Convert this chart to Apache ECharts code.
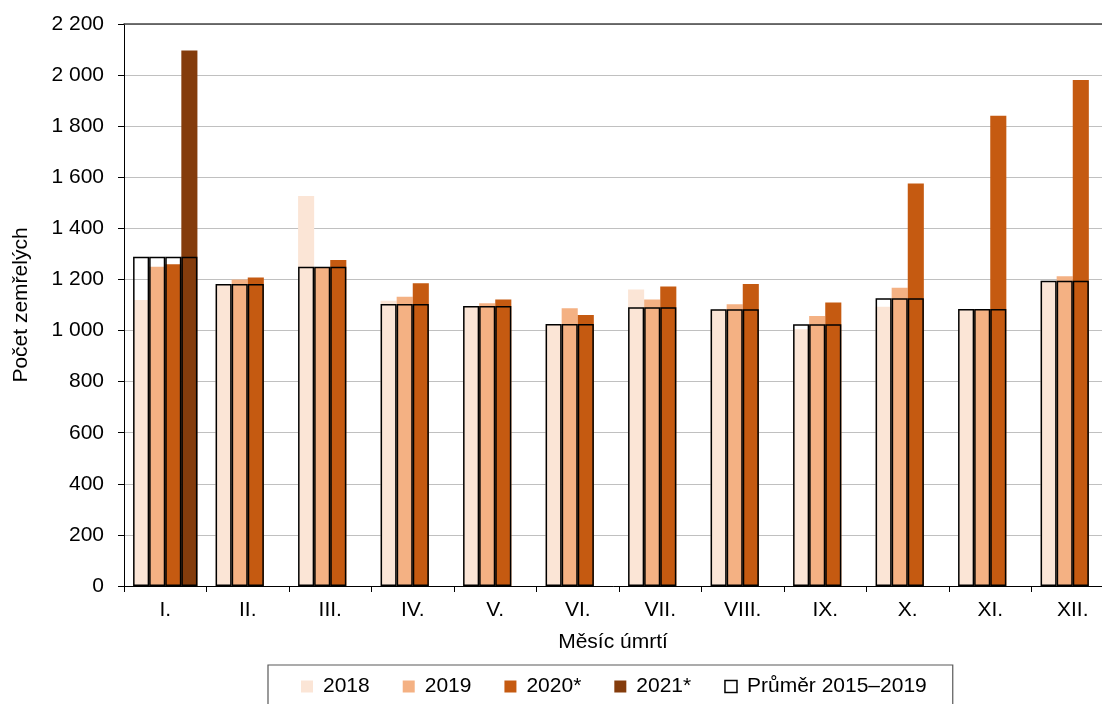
<!DOCTYPE html>
<html>
<head>
<meta charset="utf-8">
<script src="https://cdn.jsdelivr.net/npm/echarts@6/dist/echarts.min.js"></script>
<style>
  html, body { margin: 0; padding: 0; background: #fff; }
  #chart { width: 1102px; height: 704px; }
</style>
</head>
<body>
<div id="chart"></div>
<script>
const months = ['I.', 'II.', 'III.', 'IV.', 'V.', 'VI.', 'VII.', 'VIII.', 'IX.', 'X.', 'XI.', 'XII.'];
const s2018 = [1120, 1178, 1527, 1117, 1092, 1022, 1161, 1081, 1005, 1093, 1082, 1189];
const s2019 = [1250, 1200, 1246, 1132, 1107, 1087, 1122, 1103, 1057, 1168, 1082, 1213];
const s2020 = [1260, 1208, 1276, 1185, 1122, 1061, 1172, 1182, 1110, 1576, 1841, 1981];
const s2021 = [2096, null, null, null, null, null, null, null, null, null, null, null];
const avg1519 = [1289, 1182, 1250, 1104, 1096, 1026, 1091, 1083, 1025, 1126, 1084, 1195];

const yearNames = ['2018', '2019', '2020*', '2021*'];
const yearData = [s2018, s2019, s2020, s2021];
const yearColors = ['#FBE5D6', '#F4B183', '#C55A11', '#843C0C'];
const avgName = 'Průměr 2015–2019';

const FONT = '"Liberation Sans", Arial, sans-serif';
const FS = 21;
const fmt = v => String(v).replace(/\B(?=(\d{3})+(?!\d))/g, ' ');

const series = [];
yearData.forEach((d, i) => {
  series.push({
    name: yearNames[i], type: 'bar', xAxisIndex: 0, data: d,
    barGap: '0%', barCategoryGap: '22%',
    itemStyle: { color: yearColors[i] }
  });
});
yearData.forEach((d, i) => {
  series.push({
    name: avgName, type: 'bar', xAxisIndex: 1,
    data: avg1519.map((v, k) => (d[k] == null ? null : v)),
    barGap: '0%', barCategoryGap: '22%',
    itemStyle: { color: 'rgba(0,0,0,0)', borderColor: '#000', borderWidth: 1.5 }
  });
});

const chart = echarts.init(document.getElementById('chart'), null, { renderer: 'canvas' });
chart.setOption({
  animation: false,
  backgroundColor: '#fff',
  textStyle: { fontFamily: FONT },
  grid: { left: 124, top: 24, width: 990, height: 562, containLabel: false, outerBoundsMode: 'none' },
  xAxis: [
    {
      type: 'category', data: months, position: 'bottom',
      axisLine: { lineStyle: { color: '#000', width: 1 } },
      axisTick: { show: true, length: 6, lineStyle: { color: '#000' } },
      axisLabel: { color: '#000', fontSize: FS, fontFamily: FONT, margin: 14 },
      name: 'Měsíc úmrtí', nameLocation: 'middle', nameGap: 46,
      nameTextStyle: { color: '#000', fontSize: FS, fontFamily: FONT, padding: [0, 12, 0, 0] }
    },
    {
      type: 'category', data: months, position: 'top',
      axisLine: { show: true, lineStyle: { color: '#454545', width: 1.5 } },
      axisTick: { show: false }, axisLabel: { show: false }
    }
  ],
  yAxis: {
    type: 'value', min: 0, max: 2200, interval: 200,
    axisLine: { show: true, lineStyle: { color: '#000', width: 1 } },
    axisTick: { show: true, length: 6, lineStyle: { color: '#000' } },
    axisLabel: { color: '#000', fontSize: FS, fontFamily: FONT, margin: 20, formatter: fmt },
    splitLine: { lineStyle: { color: '#C0C0C0', width: 1.2 } },
    name: 'Počet zemřelých', nameLocation: 'middle', nameGap: 92, nameRotate: 90,
    nameTextStyle: { color: '#000', fontSize: FS, fontFamily: FONT }
  },
  legend: {
    left: 268, top: 665,
    padding: [11, 26, 14, 33],
    borderColor: '#595959', borderWidth: 1.2,
    itemWidth: 12, itemHeight: 12, itemGap: 33,
    textStyle: { color: '#000', fontSize: FS, fontFamily: FONT, padding: [0, 0, 0, 5] },
    data: [
      { name: '2018', icon: 'rect' },
      { name: '2019', icon: 'rect' },
      { name: '2020*', icon: 'rect' },
      { name: '2021*', icon: 'rect' },
      { name: avgName, icon: 'rect', itemStyle: { color: 'rgba(0,0,0,0)', borderColor: '#000', borderWidth: 1.5 } }
    ]
  },
  series: series
});
</script>
</body>
</html>
